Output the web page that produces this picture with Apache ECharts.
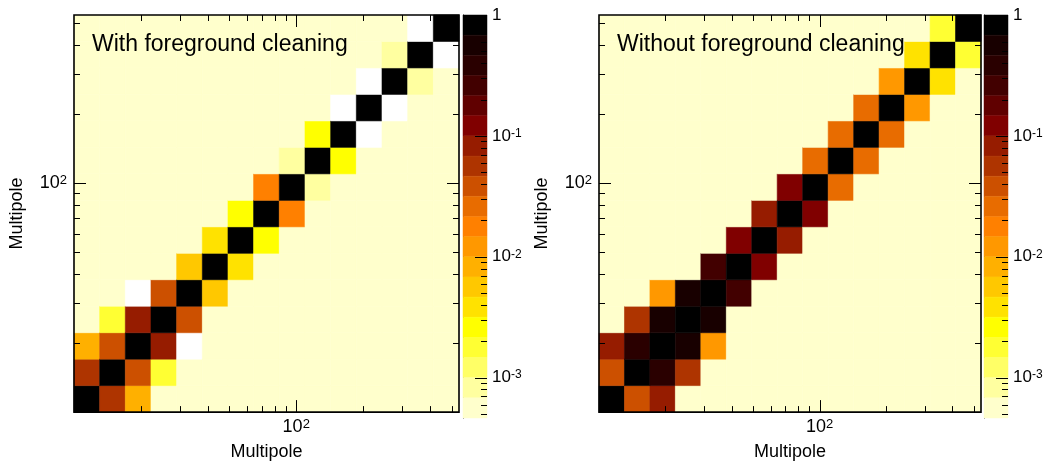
<!DOCTYPE html>
<html><head><meta charset="utf-8">
<script src="https://cdn.jsdelivr.net/npm/echarts@6/dist/echarts.min.js"></script>
<style>html,body{margin:0;padding:0;background:#fff}#c{width:1047px;height:466px}</style>
</head><body><div id="c"></div>
<script>
// ---- data ----
const binEdges = [10, 13.05, 17.02, 22.2, 28.97, 37.8, 49.3, 64.3, 83.9, 109.5, 142.9, 186.4, 243.2, 317.3, 413.9, 540];
const panelTitles = ['With foreground cleaning', 'Without foreground cleaning'];
const axisTitle = 'Multipole';
// correlation bands (diagonal, 1st and 2nd off-diagonals); negative => blank (white)
const cleanedDiag = [1, 1, 1, 1, 1, 1, 1, 1, 1, 1, 1, 1, 1, 1, 1];
const cleanedOff1 = [0.056, 0.038, 0.082, 0.038, 0.0056, 0.0038, 0.0026, 0.018, 0.00082, 0.0026, -0.001, -0.001, 0.00082, -0.001];
const cleanedOff2 = [0.0083, 0.0018, -0.001, 0.0005, 0.0005, 0.0005, 0.0005, 0.0005, 0.0005, 0.0005, 0.0005, 0.0005, 0.0005];
const rawDiag = [1, 1, 1, 1, 1, 1, 1, 1, 1, 1, 1, 1, 1, 1, 1];
const rawOff1 = [0.038, 0.38, 0.56, 0.56, 0.26, 0.12, 0.082, 0.12, 0.026, 0.026, 0.026, 0.012, 0.0038, 0.0018];
const rawOff2 = [0.082, 0.056, 0.012, 0.0005, 0.0005, 0.0005, 0.0005, 0.0005, 0.0005, 0.0005, 0.0005, 0.0005, 0.0005];
const belowScale = 0.0005;
// colour bar levels (high -> low)
const colorLevelEdges = [1, 0.681, 0.464, 0.316, 0.215, 0.147, 0.1, 0.0681, 0.0464, 0.0316, 0.0215, 0.0147, 0.01, 0.00681, 0.00464, 0.00316, 0.00215, 0.00147, 0.001, 0.000681, 0.000464];
const colorLevelColors = ['#000000', '#180000', '#2a0000', '#420000', '#600000', '#800000', '#961c00', '#ae3400', '#cc5000', '#e86c00', '#ff8000', '#ff9800', '#ffb000', '#ffc800', '#ffe200', '#ffff00', '#ffff33', '#ffff66', '#ffffa0', '#ffffcc'];
const multipoleMinorTicks = [20, 30, 40, 50, 60, 70, 80, 90, 200, 300, 400, 500];
const multipoleMajorTicks = [100];
const multipoleLabels = [100];
const colorbarMinorTicks = [0.0005, 0.0006, 0.0007, 0.0008, 0.0009, 0.002, 0.003, 0.004, 0.005, 0.006, 0.007, 0.008, 0.009, 0.02, 0.03, 0.04, 0.05, 0.06, 0.07, 0.08, 0.09, 0.2, 0.3, 0.4, 0.5, 0.6, 0.7, 0.8, 0.9];
const colorbarMajorTicks = [0.001, 0.01, 0.1];
const colorbarLabels = [1, 0.1, 0.01, 0.001];

// ---- build ----
const FONT = '"Liberation Sans", Arial, Helvetica, sans-serif';
function buildCells(diag, off1, off2) {
  const n = binEdges.length - 1, out = [];
  for (let i = 0; i < n; i++) for (let j = 0; j < n; j++) {
    const d = Math.abs(i - j), m = Math.min(i, j);
    const v = d === 0 ? diag[i] : d === 1 ? off1[m] : d === 2 ? off2[m] : belowScale;
    out.push([binEdges[i], binEdges[i + 1], binEdges[j], binEdges[j + 1], v]);
  }
  return out;
}
function expLabel(list) {
  return function (v) {
    const lv = Math.log10(v);
    const hit = list.some(t => Math.abs(Math.log10(t) - lv) < 1e-6);
    if (!hit) return '';
    const e = Math.round(lv);
    return e === 0 ? '{b|1}' : '{b|10}{sup|' + e + '}';
  };
}
function richExp(base, sup) {
  return {
    b: { fontSize: base, lineHeight: base, verticalAlign: 'bottom', fontFamily: FONT, color: '#000' },
    sup: { fontSize: sup, lineHeight: sup, verticalAlign: 'top', padding: [0, 0, 7, 0], fontFamily: FONT, color: '#000' }
  };
}
const line = (x1, y1, x2, y2) => ({ type: 'line', shape: { x1, y1, x2, y2 }, style: { stroke: '#000', lineWidth: 1 } });

function cellSeries(ai, data) {
  return {
    type: 'custom', xAxisIndex: ai, yAxisIndex: ai, data, encode: { x: [0, 1], y: [2, 3] }, silent: true, z: 2,
    renderItem(params, api) {
      const p0 = api.coord([api.value(0), api.value(2)]);
      const p1 = api.coord([api.value(1), api.value(3)]);
      const c = api.visual('color');
      return { type: 'rect', shape: { x: p0[0], y: p1[1], width: p1[0] - p0[0], height: p0[1] - p1[1] }, style: { fill: c, stroke: c, lineWidth: 0.6 } };
    }
  };
}
function frameSeries(ai) {
  return {
    type: 'custom', xAxisIndex: ai, yAxisIndex: ai, data: [[100, 100]], silent: true, z: 5,
    renderItem(params, api) {
      const cs = params.coordSys;
      const ch = [{ type: 'rect', shape: { x: cs.x, y: cs.y, width: cs.width, height: cs.height }, style: { fill: 'none', stroke: '#000', lineWidth: 1.6 } }];
      const add = (v, len) => {
        const px = Math.round(api.coord([v, binEdges[0]])[0]) + 0.5;
        const py = Math.round(api.coord([binEdges[0], v])[1]) + 0.5;
        const b = cs.y + cs.height, r = cs.x + cs.width;
        ch.push(line(px, b, px, b - len), line(px, cs.y, px, cs.y + len), line(cs.x, py, cs.x + len, py), line(r, py, r - len, py));
      };
      multipoleMinorTicks.forEach(v => add(v, 6));
      multipoleMajorTicks.forEach(v => add(v, 12));
      return { type: 'group', children: ch };
    }
  };
}
function colorbarSeries(ai) {
  return {
    type: 'custom', xAxisIndex: ai, yAxisIndex: ai, silent: true, z: 2, encode: { y: [0, 1] },
    data: colorLevelColors.map((c, k) => [colorLevelEdges[k + 1], colorLevelEdges[k], k]),
    renderItem(params, api) {
      const p0 = api.coord([0, api.value(0)]);
      const p1 = api.coord([1, api.value(1)]);
      const c = colorLevelColors[api.value(2)];
      return { type: 'rect', shape: { x: p0[0], y: p1[1], width: p1[0] - p0[0], height: p0[1] - p1[1] }, style: { fill: c, stroke: c, lineWidth: 0.5 } };
    }
  };
}
function colorbarTickSeries(ai) {
  return {
    type: 'custom', xAxisIndex: ai, yAxisIndex: ai, silent: true, z: 5, encode: { y: 1 }, data: [[0.5, 0.5]],
    renderItem(params, api) {
      const cs = params.coordSys, r = cs.x + cs.width, ch = [];
      const add = (v, len) => { const py = Math.round(api.coord([0.5, v])[1]) + 0.5; ch.push(line(r, py, r - len, py)); };
      colorbarMinorTicks.forEach(v => add(v, 6));
      colorbarMajorTicks.forEach(v => add(v, 12));
      return { type: 'group', children: ch };
    }
  };
}
function mainX(gi) {
  return {
    gridIndex: gi, type: 'log', logBase: 10, min: binEdges[0], max: binEdges[binEdges.length - 1],
    name: axisTitle, nameLocation: 'middle', nameGap: 30,
    nameTextStyle: { fontSize: 18, color: '#000', fontFamily: FONT },
    axisLine: { show: false }, axisTick: { show: false }, splitLine: { show: false }, minorTick: { show: false },
    axisLabel: { formatter: expLabel(multipoleLabels), margin: 6, color: '#000', fontFamily: FONT, rich: richExp(18, 13) }
  };
}
function mainY(gi) {
  return {
    gridIndex: gi, type: 'log', logBase: 10, min: binEdges[0], max: binEdges[binEdges.length - 1],
    name: axisTitle, nameLocation: 'middle', nameGap: 48, nameRotate: 90,
    nameTextStyle: { fontSize: 18, color: '#000', fontFamily: FONT },
    axisLine: { show: false }, axisTick: { show: false }, splitLine: { show: false },
    axisLabel: { formatter: expLabel(multipoleLabels), margin: 7, color: '#000', fontFamily: FONT, rich: richExp(18, 13) }
  };
}
function cbX(gi) { return { gridIndex: gi, type: 'value', min: 0, max: 1, show: false }; }
function cbY(gi) {
  return {
    gridIndex: gi, type: 'log', logBase: 10, min: colorLevelEdges[colorLevelEdges.length - 1], max: colorLevelEdges[0], position: 'right',
    axisLine: { show: true, lineStyle: { color: '#000', width: 1 } }, axisTick: { show: false }, splitLine: { show: false },
    axisLabel: { formatter: expLabel(colorbarLabels), margin: 5, color: '#000', fontFamily: FONT, rich: richExp(17, 12) }
  };
}
const pieces = colorLevelColors.map((c, k) => k === 0
  ? { gte: colorLevelEdges[1], lte: colorLevelEdges[0], color: c }
  : { gte: colorLevelEdges[k + 1], lt: colorLevelEdges[k], color: c });

const option = {
  animation: false,
  backgroundColor: '#ffffff',
  textStyle: { fontFamily: FONT },
  title: [
    { text: panelTitles[0], left: 92, top: 33, padding: 0, textStyle: { fontSize: 23, fontWeight: 'normal', color: '#000', fontFamily: FONT } },
    { text: panelTitles[1], left: 617, top: 33, padding: 0, textStyle: { fontSize: 23, fontWeight: 'normal', color: '#000', fontFamily: FONT } }
  ],
  grid: [
    { left: 74, top: 15, width: 385, height: 403 },
    { left: 463, top: 15, width: 24, height: 403 },
    { left: 599, top: 15, width: 382, height: 403 },
    { left: 984, top: 15, width: 24, height: 403 }
  ],
  xAxis: [mainX(0), cbX(1), mainX(2), cbX(3)],
  yAxis: [mainY(0), cbY(1), mainY(2), cbY(3)],
  visualMap: { type: 'piecewise', show: false, dimension: 4, seriesIndex: [0, 1], pieces, outOfRange: { color: '#ffffff' } },
  series: [
    cellSeries(0, buildCells(cleanedDiag, cleanedOff1, cleanedOff2)),
    cellSeries(2, buildCells(rawDiag, rawOff1, rawOff2)),
    frameSeries(0), frameSeries(2),
    colorbarSeries(1), colorbarSeries(3),
    colorbarTickSeries(1), colorbarTickSeries(3)
  ]
};
const chart = echarts.init(document.getElementById('c'), null, { renderer: 'canvas' });
chart.setOption(option);
</script></body></html>
